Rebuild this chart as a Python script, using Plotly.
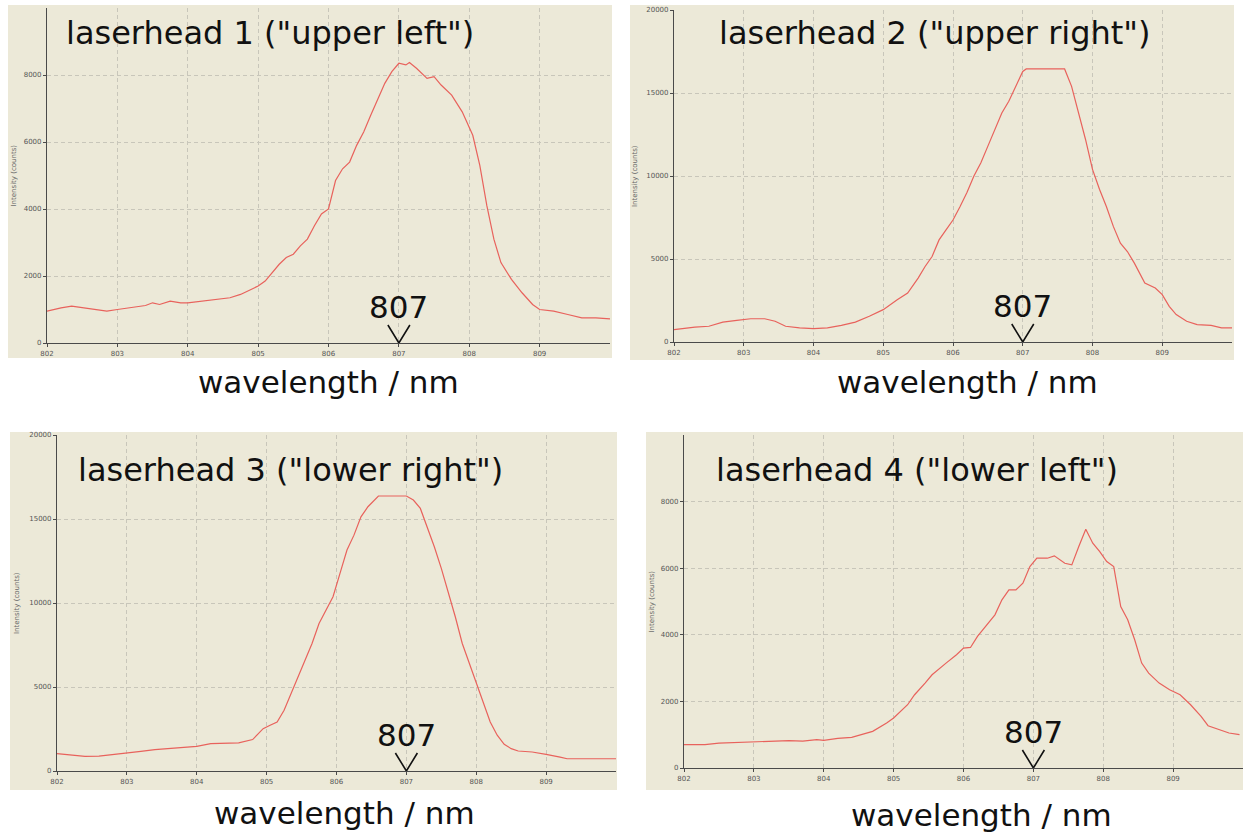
import plotly.graph_objects as go

W, H = 1243, 834

# ---------------- data ----------------
wl1 = [802.0, 802.2, 802.35, 802.5, 802.7, 802.85, 803.0, 803.2, 803.4, 803.5, 803.6, 803.75, 803.9, 804.0,
       804.2, 804.4, 804.6, 804.75, 804.9, 805.0, 805.1, 805.2, 805.3, 805.4, 805.5, 805.6, 805.7, 805.8,
       805.9, 806.0, 806.1, 806.2, 806.3, 806.4, 806.5, 806.6, 806.7, 806.8, 806.9, 807.0, 807.1, 807.15,
       807.25, 807.4, 807.5, 807.6, 807.75, 807.9, 808.05, 808.15, 808.25, 808.35, 808.45, 808.6, 808.75,
       808.9, 809.0, 809.2, 809.4, 809.6, 809.8, 810.0]
int1 = [950, 1050, 1100, 1050, 1000, 950, 1000, 1050, 1120, 1200, 1150, 1250, 1200, 1200,
        1250, 1300, 1350, 1450, 1600, 1700, 1850, 2100, 2350, 2550, 2650, 2900, 3100, 3500,
        3850, 4000, 4850, 5200, 5400, 5900, 6300, 6800, 7300, 7750, 8100, 8350, 8300, 8370,
        8200, 7900, 7950, 7700, 7400, 6900, 6200, 5300, 4100, 3100, 2400, 1900, 1500,
        1150, 1000, 950, 850, 750, 750, 720]

wl2 = [802.0, 802.3, 802.5, 802.7, 802.9, 803.1, 803.3, 803.45, 803.6, 803.8, 804.0, 804.2, 804.4, 804.6,
       804.8, 805.0, 805.2, 805.35, 805.5, 805.6, 805.7, 805.8, 805.9, 806.0, 806.1, 806.2, 806.3, 806.4,
       806.5, 806.6, 806.7, 806.8, 806.9, 807.0, 807.05, 807.6, 807.7, 807.8, 807.9, 808.0, 808.1, 808.2,
       808.3, 808.4, 808.5, 808.6, 808.75, 808.9, 809.0, 809.1, 809.2, 809.35, 809.5, 809.7, 809.85, 810.0]
int2 = [750, 900, 950, 1200, 1300, 1400, 1400, 1250, 950, 850, 800, 850, 1000, 1200,
        1550, 1950, 2550, 2950, 3850, 4550, 5150, 6150, 6750, 7350, 8150, 9000, 10000, 10800,
        11800, 12800, 13800, 14500, 15400, 16300, 16450, 16450, 15400, 13800, 12200, 10400, 9200, 8150,
        6950, 5950, 5450, 4750, 3550, 3250, 2850, 2150, 1650, 1250, 1050, 1000, 850, 850]

wl3 = [802.0, 802.2, 802.4, 802.6, 802.8, 803.0, 803.2, 803.4, 803.6, 803.8, 804.0, 804.2, 804.4, 804.6,
       804.8, 804.95, 805.05, 805.15, 805.25, 805.35, 805.45, 805.55, 805.65, 805.75, 805.85, 805.95,
       806.05, 806.15, 806.25, 806.35, 806.45, 806.55, 806.6, 807.0, 807.1, 807.2, 807.3, 807.4, 807.5,
       807.6, 807.7, 807.8, 807.9, 808.0, 808.1, 808.2, 808.3, 808.4, 808.5, 808.6, 808.8, 808.9, 809.0,
       809.2, 809.3, 809.5, 809.75, 810.0]
int3 = [1030, 930, 870, 890, 970, 1070, 1170, 1270, 1330, 1390, 1470, 1630, 1670, 1670,
        1870, 2520, 2720, 2920, 3610, 4610, 5600, 6590, 7590, 8780, 9570, 10370,
        11760, 13150, 14040, 15130, 15730, 16130, 16370, 16370, 16130, 15630, 14540, 13350, 12060,
        10670, 9180, 7590, 6400, 5200, 4010, 2920, 2130, 1590, 1330, 1190, 1130, 1070, 990,
        830, 730, 730, 730, 730]

wl4 = [802.0, 802.3, 802.5, 802.8, 803.0, 803.3, 803.5, 803.7, 803.9, 804.0, 804.2, 804.4, 804.55, 804.7,
       804.9, 805.0, 805.2, 805.3, 805.45, 805.55, 805.75, 805.9, 806.0, 806.1, 806.2, 806.3, 806.45,
       806.55, 806.65, 806.75, 806.85, 806.95, 807.05, 807.2, 807.3, 807.45, 807.55, 807.65, 807.75,
       807.85, 807.95, 808.05, 808.15, 808.25, 808.35, 808.45, 808.55, 808.65, 808.8, 808.95, 809.1,
       809.25, 809.4, 809.5, 809.65, 809.8, 809.95]
int4 = [700, 700, 750, 770, 790, 800, 820, 810, 850, 830, 890, 920, 1000, 1100,
        1350, 1500, 1900, 2200, 2550, 2800, 3150, 3400, 3600, 3620, 3950, 4200, 4600,
        5050, 5350, 5350, 5550, 6050, 6300, 6300, 6370, 6150, 6100, 6650, 7170,
        6750, 6500, 6200, 6050, 4850, 4450, 3850, 3150, 2850, 2550, 2350, 2200,
        1900, 1550, 1270, 1150, 1050, 1000]

titles = ['laserhead 1 ("upper left")', 'laserhead 2 ("upper right")',
          'laserhead 3 ("lower right")', 'laserhead 4 ("lower left")']
x_title = "wavelength / nm"
y_title = "Intensity (counts)"
x_ticks = [802, 803, 804, 805, 806, 807, 808, 809]
y_ticks_10k = [0, 2000, 4000, 6000, 8000]
y_ticks_20k = [0, 5000, 10000, 15000, 20000]
marker_wl = 807
marker_label = "807"

# ---------------- layout geometry (pixels) ----------------
def px(x):
    return x / W

def py(y):
    return 1 - y / H

panels = [
    dict(plot=(47, 610, 8, 343), box=(8, 612, 5, 358), yr=10000, yt=y_ticks_10k,
         tpos=(270, 33), xpos=(328, 382), ytx=13),
    dict(plot=(674, 1232, 10, 342), box=(630, 1234, 5, 360), yr=20000, yt=y_ticks_20k,
         tpos=(935, 33), xpos=(967, 382), ytx=635),
    dict(plot=(57, 616, 435, 771), box=(10, 617, 432, 790), yr=20000, yt=y_ticks_20k,
         tpos=(290, 470), xpos=(344, 813), ytx=17),
    dict(plot=(684, 1243, 435, 768), box=(646, 1243, 432, 790), yr=10000, yt=y_ticks_10k,
         tpos=(917, 470), xpos=(981, 815), ytx=651),
]
series = [(wl1, int1), (wl2, int2), (wl3, int3), (wl4, int4)]

BEIGE = "#ECE9D8"
RED = "#E8625C"
GRID = "#C8C6BA"

fig = go.Figure()
shapes = []
annotations = []

for i, (p, (xs, ys)) in enumerate(zip(panels, series)):
    n = "" if i == 0 else str(i + 1)
    xa, ya = "x" + n, "y" + n
    fig.add_trace(go.Scatter(x=xs, y=ys, mode="lines", xaxis=xa, yaxis=ya,
                             line=dict(color=RED, width=1.2), showlegend=False,
                             hoverinfo="x+y"))
    x0, x1, yt, yb = p["plot"]
    axis_common = dict(showgrid=True, gridcolor=GRID, griddash="4px,3px", gridwidth=1,
                       showline=True, linecolor="#4a4a4a", linewidth=1.2,
                       ticks="outside", ticklen=3, tickcolor="#4a4a4a",
                       tickfont=dict(family="DejaVu Sans", size=7, color="#555555"),
                       tickformat="d", automargin=False,
                       zeroline=False, fixedrange=True)
    fig.layout["xaxis" + n] = dict(axis_common, domain=[px(x0), px(x1)], range=[802, 810],
                                   tickvals=x_ticks, anchor=ya)
    fig.layout["yaxis" + n] = dict(axis_common, domain=[py(yb), py(yt)], range=[0, p["yr"]],
                                   tickvals=p["yt"], anchor=xa)
    bx0, bx1, by0, by1 = p["box"]
    shapes.append(dict(type="rect", xref="paper", yref="paper", layer="below",
                       x0=px(bx0), x1=px(bx1), y0=py(by1), y1=py(by0),
                       fillcolor=BEIGE, line=dict(width=0)))
    # V marker at 807
    shapes.append(dict(type="path", xref=xa, yref=ya, xsizemode="pixel", ysizemode="pixel",
                       xanchor=marker_wl, yanchor=0,
                       path="M -11,18 L 0,0 L 11,18", line=dict(color="#111111", width=1.6)))
    annotations.append(dict(x=marker_wl, y=0, xref=xa, yref=ya, text=marker_label,
                            showarrow=False, yanchor="bottom", yshift=16,
                            font=dict(family="DejaVu Sans", size=31, color="#111111")))
    tx, ty = p["tpos"]
    annotations.append(dict(x=px(tx), y=py(ty), xref="paper", yref="paper", text=titles[i],
                            showarrow=False, xanchor="center", yanchor="middle",
                            font=dict(family="DejaVu Sans", size=32, color="#111111")))
    wx, wy = p["xpos"]
    annotations.append(dict(x=px(wx), y=py(wy), xref="paper", yref="paper", text=x_title,
                            showarrow=False, xanchor="center", yanchor="middle",
                            font=dict(family="DejaVu Sans", size=31, color="#111111")))
    annotations.append(dict(x=px(p["ytx"]), y=py((yt + yb) / 2), xref="paper", yref="paper",
                            text=y_title, showarrow=False, textangle=-90,
                            xanchor="center", yanchor="middle",
                            font=dict(family="DejaVu Sans", size=7, color="#666666")))

fig.update_layout(template="none", width=W, height=H, margin=dict(l=0, r=0, t=0, b=0),
                  paper_bgcolor="white", plot_bgcolor=BEIGE,
                  shapes=shapes, annotations=annotations, showlegend=False)

fig.write_html("out.html", config={"displayModeBar": False},
               post_script="document.body.style.margin='0px';")
